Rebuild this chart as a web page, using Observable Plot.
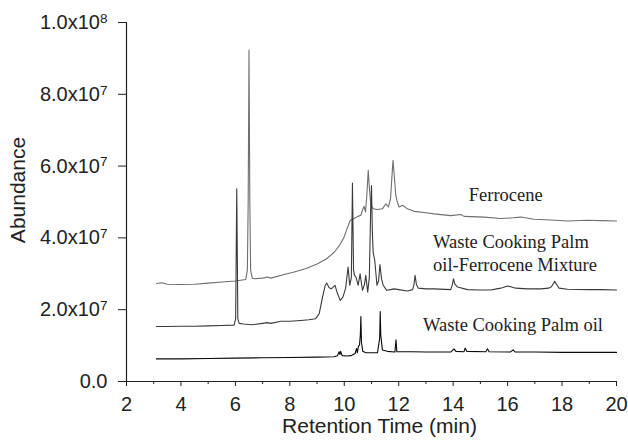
<!DOCTYPE html>
<html><head><meta charset="utf-8">
<script src="https://cdn.jsdelivr.net/npm/d3@7"></script>
<script src="https://cdn.jsdelivr.net/npm/@observablehq/plot@0.6"></script>
<style>body{margin:0;background:#fff}</style>
</head><body><div id="chart"></div>
<script>
// ---- data (retention time in min, abundance) ----
const xTicks = [2, 4, 6, 8, 10, 12, 14, 16, 18, 20];
const xMinorTicks = [3, 5, 7, 9, 11, 13, 15, 17, 19];
const yTicks = [0, 2e7, 4e7, 6e7, 8e7, 1e8];
const yTickLabels = ["0.0", "2.0x10^7", "4.0x10^7", "6.0x10^7", "8.0x10^7", "1.0x10^8"];

const seriesNames = ["Ferrocene", "Waste Cooking Palm\noil-Ferrocene Mixture", "Waste Cooking Palm oil"];
const seriesColors = ["#6f6f6f", "#3a3a3a", "#0a0a0a"];

const ferrocene = [
  [3.10,2.73e7],[3.30,2.75e7],[3.50,2.71e7],[4.00,2.70e7],[4.50,2.71e7],[5.00,2.74e7],[5.50,2.77e7],
  [6.00,2.80e7],[6.38,2.84e7],[6.44,3.10e7],[6.47,5.00e7],[6.50,9.23e7],[6.53,5.00e7],[6.56,3.10e7],
  [6.62,2.88e7],[6.70,2.86e7],[7.00,2.88e7],[7.18,2.91e7],[7.30,2.88e7],[7.79,2.98e7],[8.16,3.05e7],
  [8.60,3.15e7],[9.02,3.28e7],[9.35,3.42e7],[9.63,3.60e7],[9.85,3.82e7],[9.99,4.02e7],[10.10,4.25e7],
  [10.22,4.49e7],[10.36,4.54e7],[10.50,4.60e7],[10.61,4.63e7],[10.68,4.80e7],[10.73,4.88e7],[10.78,4.72e7],
  [10.83,5.20e7],[10.88,5.88e7],[10.93,5.30e7],[10.98,4.90e7],[11.07,4.81e7],[11.20,4.79e7],[11.40,4.81e7],
  [11.53,4.95e7],[11.62,4.86e7],[11.70,5.10e7],[11.75,5.70e7],[11.79,6.16e7],[11.84,5.70e7],[11.89,5.20e7],
  [11.93,5.05e7],[12.01,4.86e7],[12.14,4.91e7],[12.32,4.81e7],[12.57,4.74e7],[13.00,4.70e7],[13.30,4.67e7],
  [13.91,4.62e7],[14.28,4.65e7],[14.40,4.60e7],[15.14,4.58e7],[15.75,4.54e7],[16.20,4.56e7],[16.49,4.58e7],
  [16.97,4.52e7],[17.60,4.50e7],[18.20,4.47e7],[18.93,4.49e7],[19.40,4.48e7],[20.00,4.47e7]
];

const mixture = [
  [3.10,1.53e7],[3.50,1.53e7],[4.00,1.54e7],[4.50,1.54e7],[5.00,1.55e7],[5.50,1.56e7],[5.95,1.57e7],
  [6.01,1.75e7],[6.05,5.37e7],[6.09,1.75e7],[6.14,1.62e7],[6.30,1.60e7],[6.60,1.58e7],[7.00,1.62e7],
  [7.18,1.64e7],[7.30,1.62e7],[7.67,1.68e7],[8.00,1.68e7],[8.40,1.70e7],[8.70,1.72e7],[8.95,1.75e7],
  [9.08,1.89e7],[9.20,2.35e7],[9.30,2.68e7],[9.36,2.74e7],[9.44,2.62e7],[9.51,2.58e7],[9.58,2.62e7],
  [9.66,2.68e7],[9.75,2.45e7],[9.85,2.26e7],[9.95,2.35e7],[10.05,2.60e7],[10.14,3.19e7],[10.20,2.68e7],
  [10.26,2.90e7],[10.30,5.53e7],[10.34,3.10e7],[10.38,2.95e7],[10.43,2.91e7],[10.51,2.68e7],[10.58,3.00e7],
  [10.67,2.54e7],[10.74,2.70e7],[10.79,2.96e7],[10.86,2.49e7],[10.92,2.90e7],[10.97,4.80e7],[11.00,5.46e7],
  [11.03,4.20e7],[11.06,3.60e7],[11.12,3.37e7],[11.20,2.68e7],[11.26,2.80e7],[11.31,3.26e7],[11.37,2.85e7],
  [11.43,2.68e7],[11.56,2.54e7],[11.70,2.56e7],[11.83,2.58e7],[12.00,2.56e7],[12.32,2.52e7],[12.51,2.56e7],
  [12.56,2.70e7],[12.60,2.96e7],[12.65,2.70e7],[12.72,2.60e7],[13.00,2.58e7],[13.30,2.58e7],[13.91,2.56e7],
  [13.97,2.70e7],[14.01,2.86e7],[14.06,2.72e7],[14.16,2.63e7],[14.53,2.56e7],[15.00,2.55e7],[15.38,2.55e7],
  [15.60,2.58e7],[15.75,2.60e7],[16.00,2.66e7],[16.15,2.63e7],[16.30,2.60e7],[16.73,2.58e7],[17.22,2.58e7],
  [17.50,2.60e7],[17.61,2.64e7],[17.73,2.79e7],[17.82,2.68e7],[17.89,2.60e7],[18.20,2.57e7],[19.00,2.56e7],
  [19.43,2.56e7],[20.00,2.55e7]
];

const palmOil = [
  [3.10,0.63e7],[4.00,0.63e7],[5.00,0.64e7],[6.00,0.65e7],[7.00,0.66e7],[8.00,0.67e7],[9.00,0.68e7],
  [9.63,0.69e7],[9.75,0.72e7],[9.81,0.83e7],[9.84,0.75e7],[9.87,0.84e7],[9.92,0.72e7],[10.10,0.71e7],
  [10.24,0.72e7],[10.40,0.78e7],[10.45,0.92e7],[10.48,0.80e7],[10.52,0.98e7],[10.56,1.02e7],[10.59,1.30e7],
  [10.61,1.81e7],[10.63,1.10e7],[10.68,0.84e7],[10.79,0.80e7],[11.00,0.80e7],[11.22,0.80e7],[11.30,1.20e7],
  [11.32,1.95e7],[11.34,1.30e7],[11.40,0.88e7],[11.58,0.84e7],[11.86,0.82e7],[11.90,1.16e7],[11.93,0.83e7],
  [12.50,0.83e7],[13.00,0.82e7],[13.91,0.82e7],[14.03,0.91e7],[14.10,0.84e7],[14.40,0.83e7],[14.44,0.93e7],
  [14.50,0.84e7],[15.20,0.83e7],[15.26,0.91e7],[15.32,0.83e7],[16.10,0.82e7],[16.20,0.88e7],[16.28,0.82e7],
  [17.00,0.82e7],[18.00,0.81e7],[19.00,0.81e7],[20.00,0.81e7]
];

// annotation anchor points (data coordinates)
const labelTimes = [15.93, 13.26, 16.2];
const labelAbund = [5.19e7, 3.61e7, 1.56e7];

const sans = "'Liberation Sans', Arial, Helvetica, sans-serif";
const serif = "'Liberation Serif', 'Times New Roman', serif";

const series = [ferrocene, mixture, palmOil];
const labels = seriesNames.map((name, i) => ({name, t: labelTimes[i], a: labelAbund[i]}));

const plot = Plot.plot({
  width: 628,
  height: 445,
  marginLeft: 126,
  marginRight: 12,
  marginTop: 22,
  marginBottom: 64,
  style: {fontFamily: sans, fontSize: "20px", background: "#fff", color: "#222"},
  x: {domain: [2, 20]},
  y: {domain: [0, 1e8]},
  marks: [
    ...series.map((s, i) => Plot.line(s, {x: d => d[0], y: d => d[1], stroke: seriesColors[i], strokeWidth: 1.1})),
    Plot.ruleX([2], {stroke: "#222", strokeWidth: 1.2}),
    Plot.ruleY([0], {stroke: "#222", strokeWidth: 1.2}),
    Plot.axisX(xTicks, {tickSize: 5, tickPadding: 10, fontSize: 20, label: null, stroke: "#222"}),
    Plot.axisX(xMinorTicks, {tickSize: 3, fill: "none", label: null, stroke: "#222"}),
    Plot.axisY(yTicks, {tickSize: 8, tickPadding: 11, fontSize: 20, label: null, stroke: "#222",
      tickFormat: d => yTickLabels[yTicks.indexOf(d)]}),
    Plot.text(["Retention Time (min)"], {frameAnchor: "bottom", dx: 8, dy: 51, fontSize: 21, fill: "#222"}),
    Plot.text(["Abundance"], {frameAnchor: "left", textAnchor: "middle", rotate: -90, dx: -108, dy: -12, fontSize: 21, fill: "#222"}),
    Plot.text(labels.filter((d, i) => i !== 1), {x: "t", y: "a", text: "name", fontFamily: serif, fontSize: 18.5, fill: "#222"}),
    Plot.text(labels.filter((d, i) => i === 1), {x: "t", y: "a", text: "name", textAnchor: "start", lineHeight: 1.25, fontFamily: serif, fontSize: 18.5, fill: "#222"})
  ]
});

// superscript exponents on y tick labels
plot.querySelectorAll('g[aria-label="y-axis tick label"] text').forEach(t => {
  const m = t.textContent.match(/^(.*)\^(\d+)$/);
  if (m) {
    t.textContent = m[1];
    const ts = document.createElementNS("http://www.w3.org/2000/svg", "tspan");
    ts.setAttribute("dy", "-0.45em");
    ts.setAttribute("font-size", "0.68em");
    ts.textContent = m[2];
    t.appendChild(ts);
  }
});

document.getElementById("chart").appendChild(plot);
</script>
</body></html>
